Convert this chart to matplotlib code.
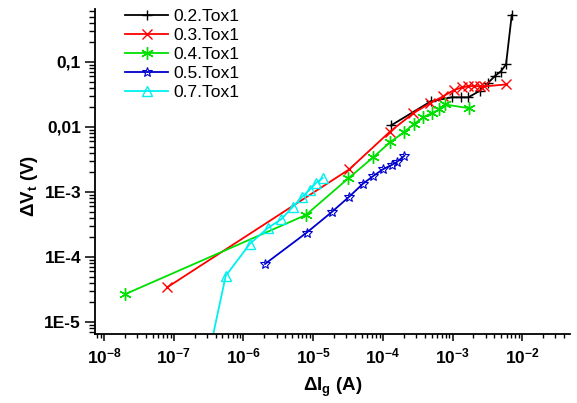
import matplotlib
matplotlib.use("Agg")
import matplotlib.pyplot as plt
from matplotlib.ticker import LogLocator, FixedLocator, FixedFormatter, NullFormatter
import numpy as np

# ---- data ----
labels = ["0.2.Tox1", "0.3.Tox1", "0.4.Tox1", "0.5.Tox1", "0.7.Tox1"]

x_02 = [1.31e-4, 4.86e-4, 9.7e-4, 1.31e-3, 1.69e-3, 2.44e-3, 3.23e-3, 4.07e-3, 4.89e-3, 5.86e-3, 7.08e-3]
y_02 = [0.01055, 0.0247, 0.0286, 0.0286, 0.0286, 0.0358, 0.0475, 0.061, 0.071, 0.0915, 0.53]

x_03 = [8.1e-8, 3.3e-5, 1.27e-4, 2.74e-4, 4.75e-4, 7.4e-4, 1.05e-3, 1.38e-3, 1.69e-3, 2.04e-3, 2.44e-3, 2.79e-3, 5.86e-3]
y_03 = [3.42e-5, 2.23e-3, 8.5e-3, 0.01625, 0.0232, 0.0297, 0.037, 0.0406, 0.0423, 0.0428, 0.0423, 0.042, 0.0451]

x_04 = [2.0e-8, 7.9e-6, 3.2e-5, 7.3e-5, 1.27e-4, 2.01e-4, 2.8e-4, 3.81e-4, 5.03e-4, 6.47e-4, 7.8e-4, 1.74e-3]
y_04 = [2.67e-5, 4.43e-4, 1.62e-3, 3.42e-3, 5.82e-3, 8.3e-3, 0.0111, 0.014, 0.0163, 0.0186, 0.0222, 0.0194]

x_05 = [2.04e-6, 8.1e-6, 1.84e-5, 3.3e-5, 5.15e-5, 7.3e-5, 1.0e-4, 1.34e-4, 1.61e-4, 2.04e-4]
y_05 = [7.8e-5, 2.37e-4, 4.88e-4, 8.47e-4, 1.33e-3, 1.76e-3, 2.23e-3, 2.6e-3, 2.92e-3, 3.61e-3]

x_07 = [2.92e-7, 5.57e-7, 1.245e-6, 2.22e-6, 3.5e-6, 5.15e-6, 6.87e-6, 8.9e-6, 1.11e-5, 1.37e-5]
y_07 = [2.0e-6, 5.1e-5, 1.6e-4, 2.77e-4, 3.82e-4, 5.94e-4, 8.28e-4, 1.08e-3, 1.39e-3, 1.63e-3]

x_tick_values = [1e-8, 1e-7, 1e-6, 1e-5, 1e-4, 1e-3, 1e-2]
x_tick_labels = [r"$\mathbf{10^{-8}}$", r"$\mathbf{10^{-7}}$", r"$\mathbf{10^{-6}}$",
                 r"$\mathbf{10^{-5}}$", r"$\mathbf{10^{-4}}$", r"$\mathbf{10^{-3}}$",
                 r"$\mathbf{10^{-2}}$"]
y_tick_values = [1e-5, 1e-4, 1e-3, 1e-2, 1e-1]
y_tick_labels = ["1E-5", "1E-4", "1E-3", "0,01", "0,1"]

# ---- style ----
plt.rcParams["font.family"] = ["Liberation Sans", "DejaVu Sans"]
plt.rcParams["mathtext.fontset"] = "custom"
plt.rcParams["mathtext.rm"] = "Liberation Sans"
plt.rcParams["mathtext.it"] = "Liberation Sans:italic"
plt.rcParams["mathtext.bf"] = "Liberation Sans:bold"

W, H = 577, 403
fig = plt.figure(figsize=(W / 100, H / 100), dpi=100)
ax = fig.add_axes([95 / W, 69 / H, 475 / W, 325 / H])

series = [
    (x_02, y_02, "black", "+", 7, 1.0),
    (x_03, y_03, "#ff0000", "x", 7, 1.0),
    (x_04, y_04, "#00e000", (6, 2, 0), 9, 1.0),
    (x_05, y_05, "#0000cc", "*", 7, 0.8),
    (x_07, y_07, "#00f0f0", "^", 7, 1.0),
]
for (xs, ys, c, m, ms, mew), lab in zip(series, labels):
    fc = "none" if m in ("*", "^") else c
    ax.plot(xs, ys, color=c, lw=1.3, marker=m, ms=ms, mew=mew,
            mfc=fc, mec=c, label=lab, clip_on=True)

ax.set_xscale("log")
ax.set_yscale("log")
ax.set_xlim(7.43e-9, 0.0485)
ax.set_ylim(6.53e-6, 0.653)

ax.xaxis.set_major_locator(FixedLocator(x_tick_values))
ax.xaxis.set_major_formatter(FixedFormatter(x_tick_labels))
ax.xaxis.set_minor_locator(LogLocator(base=10, subs=np.arange(2, 10), numticks=20))
ax.xaxis.set_minor_formatter(NullFormatter())
ax.yaxis.set_major_locator(FixedLocator(y_tick_values))
ax.yaxis.set_major_formatter(FixedFormatter(y_tick_labels))
ax.yaxis.set_minor_locator(LogLocator(base=10, subs=np.arange(2, 10), numticks=20))
ax.yaxis.set_minor_formatter(NullFormatter())

for s in ("top", "right"):
    ax.spines[s].set_visible(False)
for s in ("left", "bottom"):
    ax.spines[s].set_linewidth(1.3)

ax.tick_params(axis="x", which="major", direction="out", length=5, width=1.1, pad=4, labelsize=12.5)
ax.tick_params(axis="x", which="minor", direction="out", length=3, width=1.0)
ax.tick_params(axis="y", which="major", direction="out", length=7, width=1.1, pad=3, labelsize=12.5)
ax.tick_params(axis="y", which="minor", direction="out", length=4, width=1.0)
for t in ax.get_yticklabels():
    t.set_fontweight("bold")

fig.text(333 / W, 1 - 387 / H, r"$\mathbf{\Delta I_{g}}$ $\mathbf{(A)}$", ha="center", va="center", fontsize=13.5)
fig.text(30 / W, 1 - 186 / H, r"$\mathbf{\Delta V_{t}}$ $\mathbf{(V)}$", ha="center", va="center",
         rotation=90, fontsize=13.5)

leg = ax.legend(loc="upper left", bbox_to_anchor=(125 / W, 1 - 9 / H), bbox_transform=fig.transFigure,
                frameon=False, fontsize=12.5, handlelength=2.5, handletextpad=0.3,
                labelspacing=0.22, borderpad=0, borderaxespad=0)

fig.savefig("out.png", dpi=100)
